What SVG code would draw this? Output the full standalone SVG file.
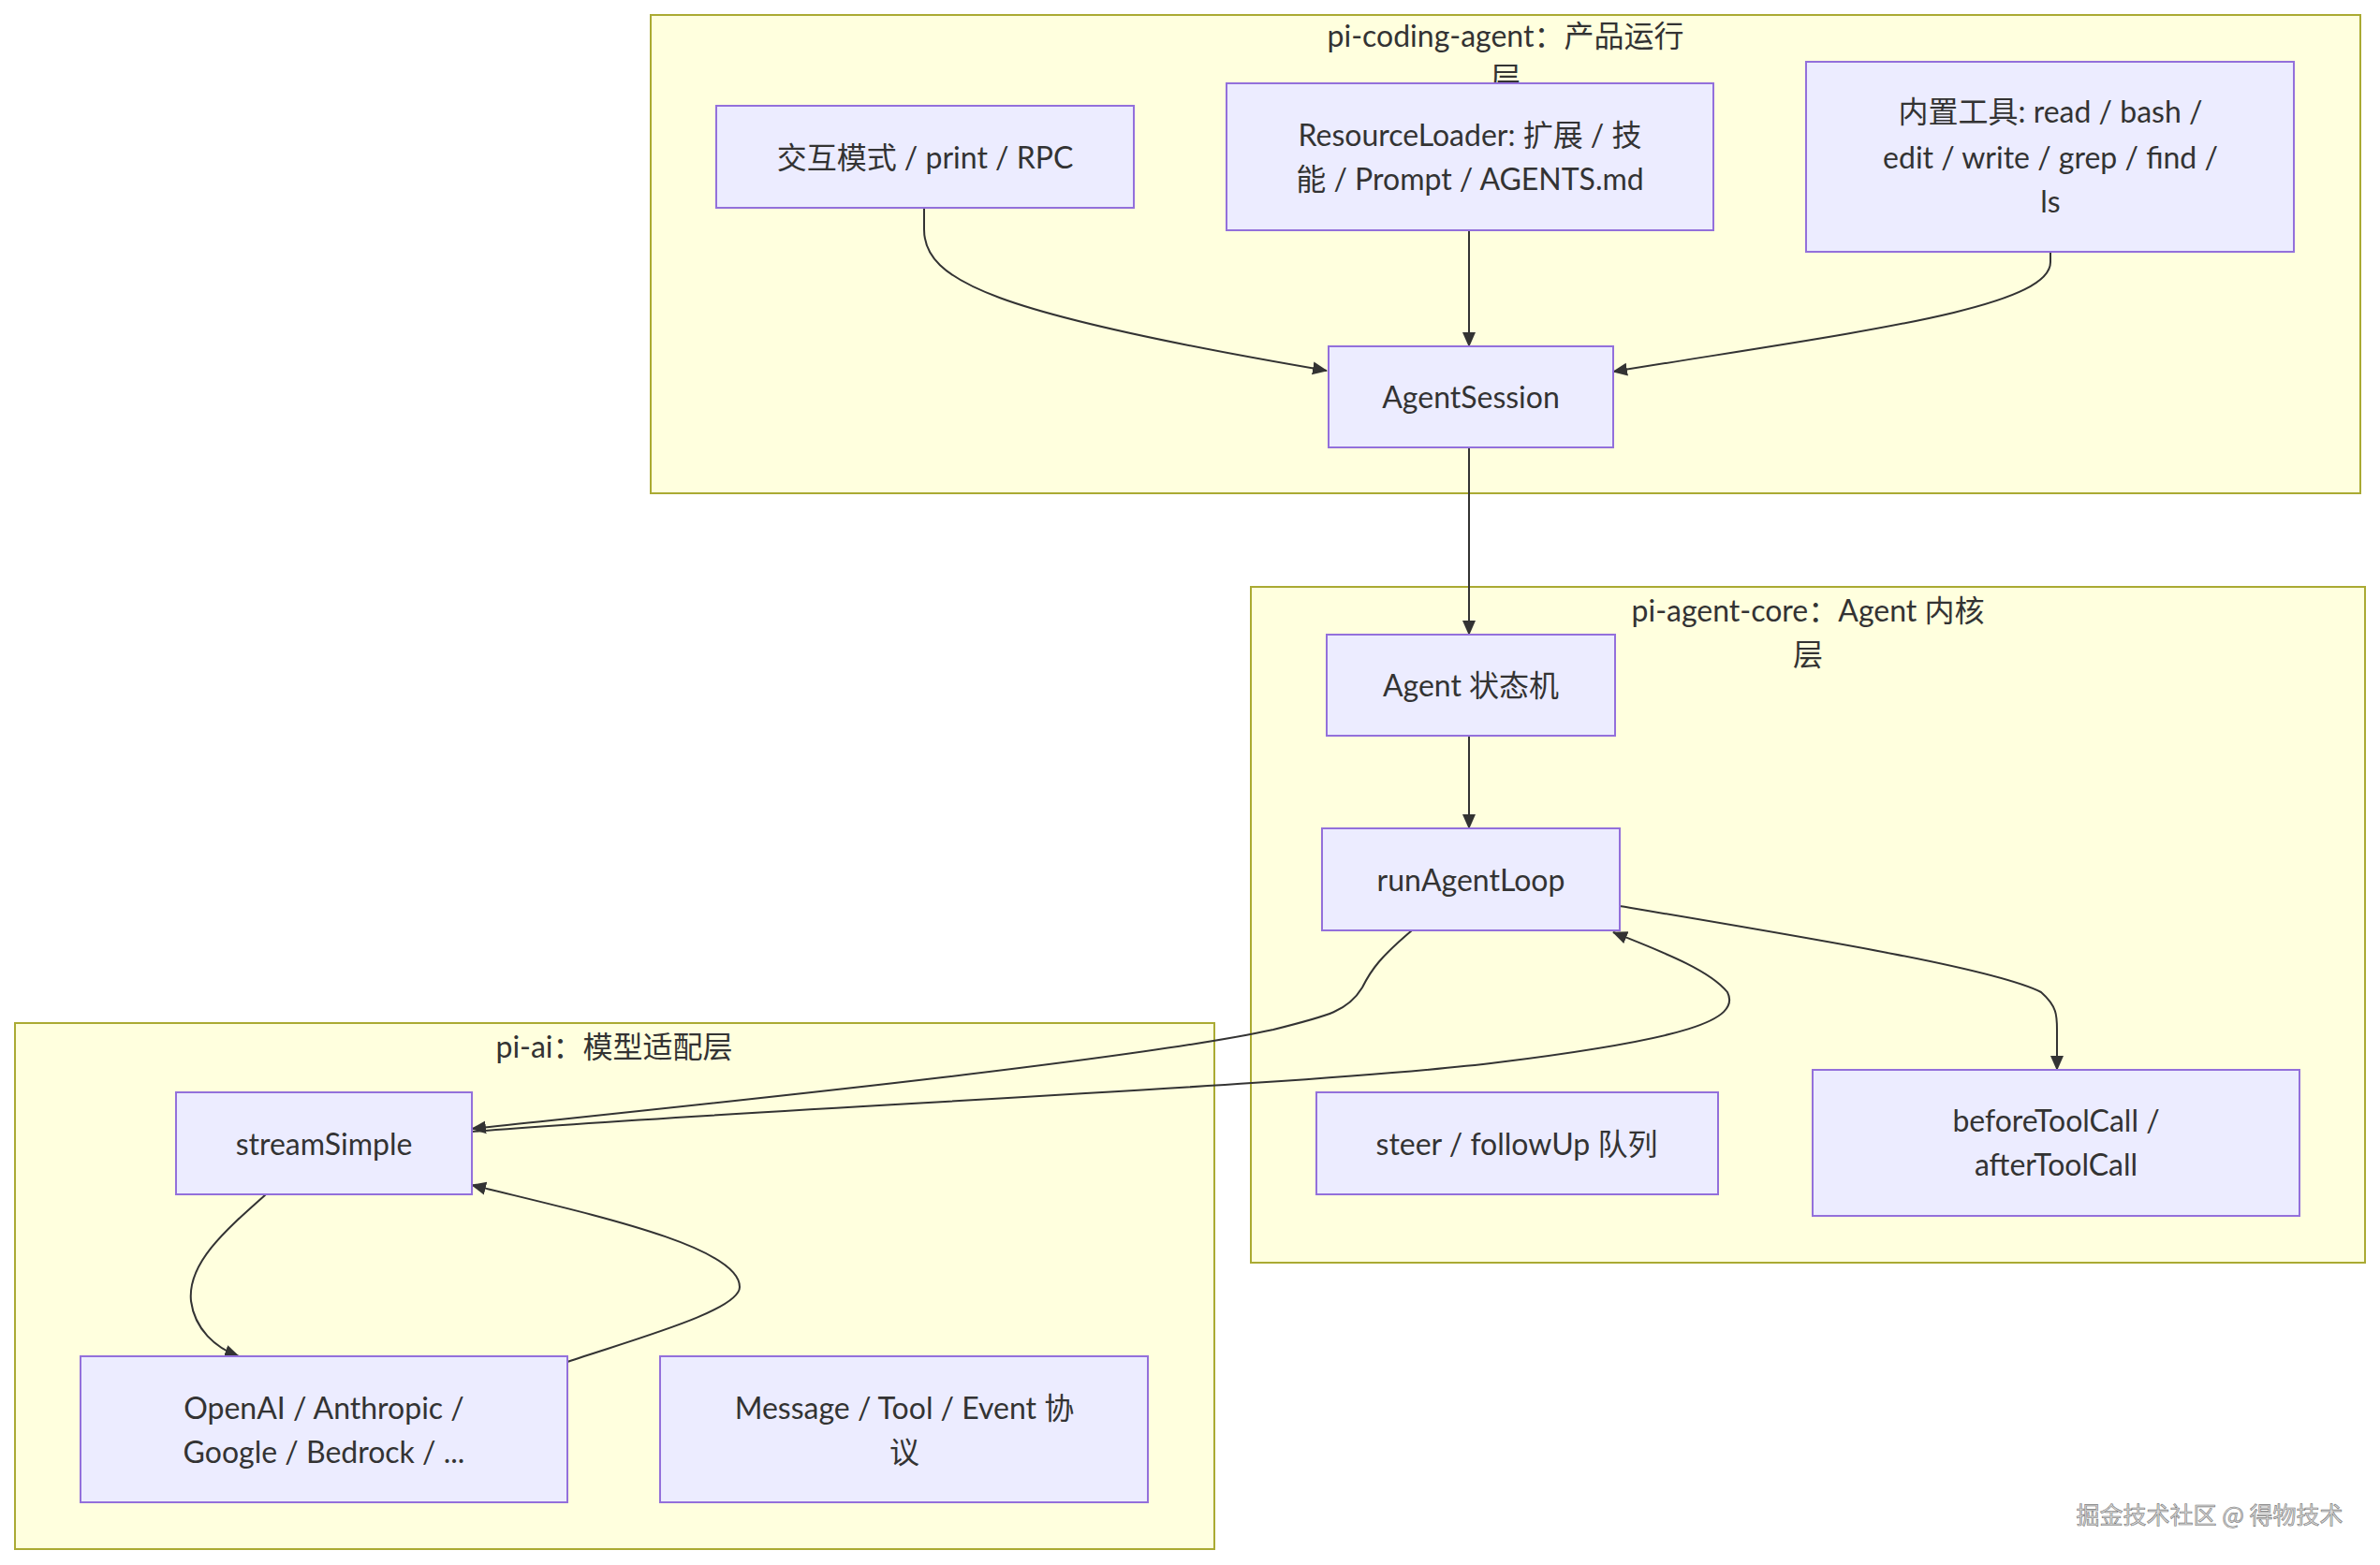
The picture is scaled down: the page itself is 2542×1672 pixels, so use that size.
<svg xmlns="http://www.w3.org/2000/svg" width="2542" height="1672" viewBox="0 0 2542 1672">
<style>
.cluster{fill:#ffffde;stroke:#aaaa33;stroke-width:2}
.node{fill:#ECECFF;stroke:#9370DB;stroke-width:2}
.t{font-family:"Lato","Noto Sans CJK SC",sans-serif;font-size:32px;fill:#333;text-anchor:middle;dominant-baseline:central}
.e{fill:none;stroke:#333;stroke-width:2}
.wm{font-family:"Noto Sans CJK SC",sans-serif;font-size:25px;fill:#d8d8d8;stroke:#777;stroke-width:0.6;text-anchor:middle;dominant-baseline:central}
</style>
<defs>
<marker id="arr" markerUnits="userSpaceOnUse" markerWidth="18" markerHeight="18" refX="15" refY="9" orient="auto">
<path d="M0,2 L16,9 L0,16 z" fill="#333"/>
</marker>
</defs>
<rect width="2542" height="1672" fill="#fff"/>
<g id="cluster-coding">
<rect class="cluster" x="695" y="16" width="1826" height="511"/>
<text class="t" x="1608" y="37">pi-coding-agent：产品运行</text>
<text class="t" x="1608" y="82">层</text>
</g>
<g id="cluster-core">
<rect class="cluster" x="1336" y="627" width="1190" height="722"/>
<text class="t" x="1931" y="651">pi-agent-core：Agent 内核</text>
<text class="t" x="1931" y="698">层</text>
</g>
<g id="cluster-ai">
<rect class="cluster" x="16" y="1093" width="1281" height="562"/>
<text class="t" x="656" y="1117">pi-ai：模型适配层</text>
</g>
<g id="edges">
<path class="e" marker-end="url(#arr)" d="M987,222 L987,245 C987,300 1060,335 1417,396"/>
<path class="e" marker-end="url(#arr)" d="M1569,246 L1569,370"/>
<path class="e" marker-end="url(#arr)" d="M2190,269 L2190,280 C2190,330 1980,355 1723,397"/>
<path class="e" marker-end="url(#arr)" d="M1569,478 L1569,678"/>
<path class="e" marker-end="url(#arr)" d="M1569,786 L1569,885"/>
<path class="e" marker-end="url(#arr)" d="M1730,968 C1950,1005 2130,1035 2180,1060 C2197,1075 2197,1085 2197,1100 L2197,1143"/>
<path class="e" marker-end="url(#arr)" d="M1508,994 C1475,1022 1465,1035 1455,1055 C1440,1080 1420,1085 1360,1100 C1200,1135 700,1185 504,1206"/>
<path class="e" marker-end="url(#arr)" d="M504,1209 C800,1185 1400,1160 1600,1135 C1800,1110 1860,1090 1845,1060 C1825,1035 1770,1015 1723,996"/>
<path class="e" marker-end="url(#arr)" d="M284,1276 C240,1315 200,1350 204,1390 C208,1420 230,1440 255,1449"/>
<path class="e" marker-end="url(#arr)" d="M606,1455 C680,1430 790,1400 790,1375 C790,1330 620,1295 504,1266"/>
</g>
<g id="n-interactive">
<rect class="node" x="765" y="113" width="446" height="109"/>
<text class="t" x="988" y="167">交互模式 / print / RPC</text>
</g>
<g id="n-resource">
<rect class="node" x="1310" y="89" width="520" height="157"/>
<text class="t" x="1570" y="143">ResourceLoader: 扩展 / 技</text>
<text class="t" x="1570" y="190">能 / Prompt / AGENTS.md</text>
</g>
<g id="n-tools">
<rect class="node" x="1929" y="66" width="521" height="203"/>
<text class="t" x="2190" y="118">内置工具: read / bash /</text>
<text class="t" x="2190" y="167">edit / write / grep / find /</text>
<text class="t" x="2190" y="214">ls</text>
</g>
<g id="n-session">
<rect class="node" x="1419" y="370" width="304" height="108"/>
<text class="t" x="1571" y="423">AgentSession</text>
</g>
<g id="n-agent">
<rect class="node" x="1417" y="678" width="308" height="108"/>
<text class="t" x="1571" y="731">Agent 状态机</text>
</g>
<g id="n-loop">
<rect class="node" x="1412" y="885" width="318" height="109"/>
<text class="t" x="1571" y="939">runAgentLoop</text>
</g>
<g id="n-steer">
<rect class="node" x="1406" y="1167" width="429" height="109"/>
<text class="t" x="1620" y="1221">steer / followUp 队列</text>
</g>
<g id="n-hooks">
<rect class="node" x="1936" y="1143" width="520" height="156"/>
<text class="t" x="2196" y="1196">beforeToolCall /</text>
<text class="t" x="2196" y="1243">afterToolCall</text>
</g>
<g id="n-stream">
<rect class="node" x="188" y="1167" width="316" height="109"/>
<text class="t" x="346" y="1221">streamSimple</text>
</g>
<g id="n-providers">
<rect class="node" x="86" y="1449" width="520" height="156"/>
<text class="t" x="346" y="1503">OpenAI / Anthropic /</text>
<text class="t" x="346" y="1550">Google / Bedrock / ...</text>
</g>
<g id="n-protocol">
<rect class="node" x="705" y="1449" width="521" height="156"/>
<text class="t" x="966" y="1503">Message / Tool / Event 协</text>
<text class="t" x="966" y="1550">议</text>
</g>
<text class="wm" x="2360" y="1617">掘金技术社区 @ 得物技术</text>
</svg>
